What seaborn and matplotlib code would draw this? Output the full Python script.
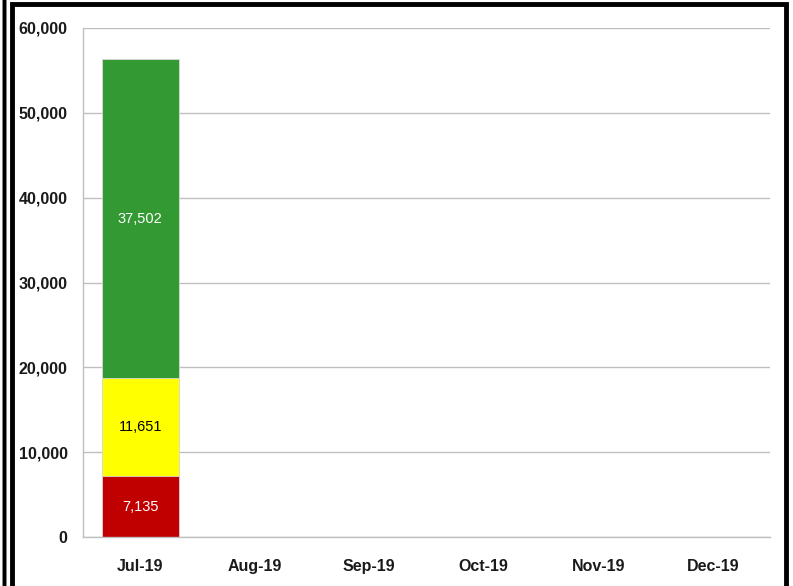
import matplotlib
matplotlib.use("Agg")
import matplotlib.pyplot as plt
import seaborn as sns
import pandas as pd
import numpy as np
from matplotlib.patches import Rectangle
from matplotlib.ticker import FuncFormatter

# Data
months = ["Jul-19", "Aug-19", "Sep-19", "Oct-19", "Nov-19", "Dec-19"]
red_vals = [7135, 0, 0, 0, 0, 0]
yellow_vals = [11651, 0, 0, 0, 0, 0]
green_vals = [37502, 0, 0, 0, 0, 0]

colors = {"red": "#C00000", "yellow": "#FFFF00", "green": "#339933"}

sns.set_style("white")
plt.rcParams["font.family"] = ["Liberation Sans", "DejaVu Sans"]

df = pd.DataFrame({"month": months, "red": red_vals, "yellow": yellow_vals, "green": green_vals})
df["c1"] = df["red"]
df["c2"] = df["red"] + df["yellow"]
df["c3"] = df["c2"] + df["green"]

fig = plt.figure(figsize=(7.93, 5.86), dpi=100)
ax = fig.add_axes([83 / 793, 1 - 537 / 586, (770 - 83) / 793, (537 - 28) / 586])

# stacked look: draw cumulative totals from top to bottom
for col, key in [("c3", "green"), ("c2", "yellow"), ("c1", "red")]:
    sns.barplot(data=df, x="month", y=col, color=colors[key], width=0.67,
                saturation=1, ax=ax, order=months, edgecolor="#d9d9d9", linewidth=0.6)

# segment labels
for i, row in df.iterrows():
    segs = [(0, row["red"], "white"), (row["c1"], row["yellow"], "black"), (row["c2"], row["green"], "white")]
    for base, val, tc in segs:
        if val > 0:
            ax.text(i, base + val / 2, f"{val:,}", ha="center", va="center",
                    color=tc, fontsize=10.5)

ax.set_ylim(0, 60000)
ax.set_yticks(np.arange(0, 60001, 10000))
ax.yaxis.set_major_formatter(FuncFormatter(lambda v, p: f"{int(v):,}"))
ax.set_xlabel("")
ax.set_ylabel("")
ax.grid(axis="y", color="#bfbfbf", linewidth=1)
ax.set_axisbelow(True)
for s in ["top", "right"]:
    ax.spines[s].set_visible(False)
for s in ["left", "bottom"]:
    ax.spines[s].set_color("#bfbfbf")
    ax.spines[s].set_linewidth(1)
ax.tick_params(axis="both", length=0, labelsize=11.5, labelcolor="#1a1a1a")
ax.tick_params(axis="y", pad=11)
ax.tick_params(axis="x", pad=16)
for lab in ax.get_xticklabels() + ax.get_yticklabels():
    lab.set_fontweight("bold")

# black frame around chart
fig.patches.append(Rectangle((12 / 793, -0.01), (786 - 12) / 793, 1 - 4 / 586 + 0.01,
                             transform=fig.transFigure, fill=False, edgecolor="black",
                             linewidth=3.5, zorder=10))
fig.patches.append(Rectangle((4 / 793, -0.01), 0.0, 1.02, transform=fig.transFigure,
                             fill=False, edgecolor="black", linewidth=2.5, zorder=10))

fig.savefig("out.png", dpi=100)
